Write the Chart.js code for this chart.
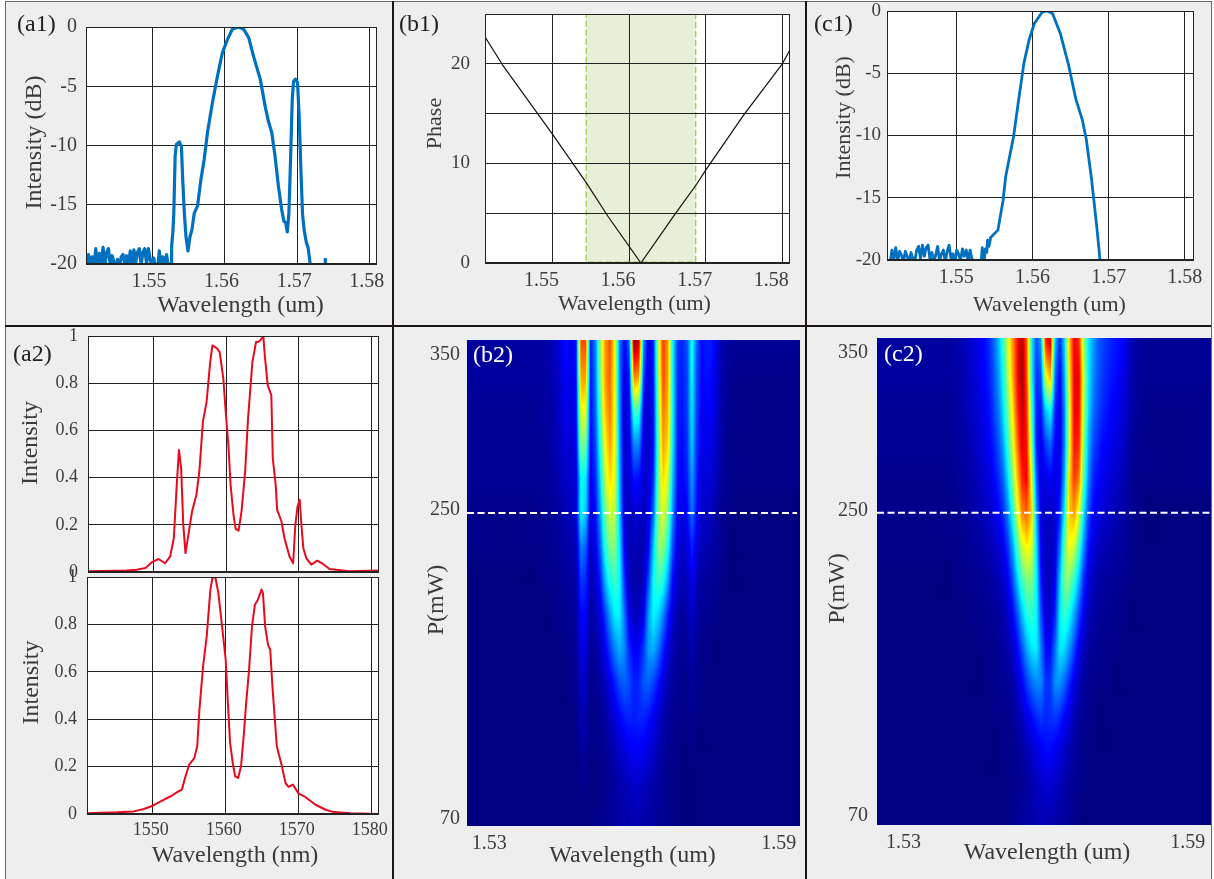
<!DOCTYPE html>
<html>
<head>
<meta charset="utf-8">
<title>Spectra</title>
<script src="https://cdn.jsdelivr.net/npm/chart.js@4"></script>
<style>
  html, body { margin: 0; background: #fff; }
  #page { position: relative; width: 1214px; height: 879px; overflow: hidden; background: #fff; }
  #sheet { position: absolute; left: 5px; top: 1px; width: 1205px; height: 878px; background: #eee; border: 1px solid #6a6a6a; border-bottom: none; }
  #page canvas { position: absolute; }
  .rule { position: absolute; background: #1a1414; }
  .tag { position: absolute; font: 24px "Liberation Serif"; color: #222; line-height: 24px; }
</style>
</head>
<body>
<div id="page"><div id="sheet"></div></div>
<script>
// (a1) spectrum, dB
const a1Wave = [1.541,1.54125,1.5415,1.54175,1.542,1.54225,1.5425,1.54275,1.543,1.54325,1.5435,1.54375,1.544,1.54425,1.5445,1.54475,1.545,1.54525,1.5455,1.54575,1.546,1.54625,1.5465,1.54675,1.547,1.54725,1.5475,1.54775,1.548,1.54825,1.5485,1.54875,1.549,1.54925,1.5495,1.54975,1.55,1.55025,1.5505,1.55075,1.551,1.55125,1.5515,1.55175,1.552,1.55225,1.5525,
  1.55264,1.5527,1.55286,1.553,1.55318,1.55336,1.55377,1.55405,1.55423,1.55445,1.55468,1.55495,1.55523,1.5555,1.55582,1.55627,1.55673,1.55718,1.55764,1.55832,1.559,1.55968,1.56036,1.56105,1.56186,1.56264,1.56332,1.564,1.56491,1.56559,1.56605,1.5665,1.56695,1.56741,1.56786,1.56818,1.56841,1.56864,1.56886,1.56909,1.56932,1.5695,1.56977,1.57005,1.57027,1.5705,1.57073,1.57095,1.57127,1.5715,1.57177,1.57195,1.5738,1.57386,1.57388];
const a1Int = [-20.3,-19.2,-20.2,-19.4,-20.1,-18.7,-20.2,-19.1,-19.9,-18.6,-20.1,-19,-18.7,-20.2,-19.3,-19.8,-20.4,-19.6,-20.3,-19.4,-19.2,-20,-19.3,-20.1,-18.9,-20,-18.8,-19.9,-19,-18.7,-20.1,-19,-18.7,-20,-18.7,-19.6,-20.2,-19.5,-20.4,-20.5,-18.9,-20.2,-19.4,-20.4,-19.2,-20.3,-20.3,
  -19.9,-18.5,-17.4,-15.7,-10.9,-9.9,-9.7,-10.1,-12.9,-15.7,-17.7,-18.9,-17.7,-17.1,-15.7,-15.1,-12.9,-11.2,-8.9,-6.4,-4.2,-2.2,-1.1,-0.2,0,-0.2,-0.9,-2.5,-4.4,-6.7,-8,-8.9,-10.9,-13.4,-15.4,-16.4,-16.5,-17.3,-15.7,-11.2,-6.1,-4.6,-4.4,-4.7,-7.5,-11.8,-15.7,-17.1,-18.2,-18.6,-19.9,-20.8,null,-20.2,-19.5];
const a1XTicks = [1.55, 1.56, 1.57, 1.58];
const a1YTicks = [-20, -15, -10, -5, 0];

// (b1) phase
const b1Wave = [1.54117,1.54348,1.55,1.55441,1.55726,1.56154,1.56609,1.56874,1.57,1.57492,1.58,1.58102];
const b1Phase = [22.73,19.9,12.93,8.07,4.67,0,5,7.83,9.33,14.83,20,21.43];
const b1Band = [1.5544, 1.5687];
const b1BandPhase = [0.1, 24.95];
const b1YTicks = [0, 5, 10, 15, 20, 25];
const b1YLabels = ['0', '', '10', '', '20', ''];

// (c1) spectrum, dB
const c1Wave = [1.5413,1.54155,1.5418,1.54205,1.5423,1.54255,1.5428,1.54305,1.5433,1.54355,1.5438,1.54405,1.5443,1.54455,1.5448,1.54505,1.5453,1.54555,1.5458,1.54605,1.5463,1.54655,1.5468,1.54705,1.5473,1.54755,1.5478,1.54805,1.5483,1.54855,1.5488,1.54905,1.5493,1.54955,1.5498,1.55005,1.5503,1.55055,1.5508,1.55105,1.5513,1.55155,1.5518,1.55205,1.5524,1.5532,
  1.5534,1.5536,1.5538,1.554,1.5541,1.5543,1.5545,1.55546,1.55614,1.55648,1.55751,1.55819,1.55887,1.55956,1.56024,1.56126,1.56195,1.56263,1.56365,1.56468,1.5657,1.56652,1.56706,1.56775,1.56843,1.56877,1.56891];
const c1Int = [-20.3,-19.2,-19.9,-19,-20.1,-19.3,-19.6,-20.2,-19.3,-19.7,-20.2,-19.4,-19.9,-20.1,-19.2,-18.9,-19.9,-18.8,-19.7,-19,-18.8,-20,-19.4,-20.1,-19.6,-18.9,-20.1,-19.5,-19.2,-20.2,-19.3,-18.8,-19.9,-19.5,-20.2,-19.2,-19.5,-20.1,-19.1,-19.7,-19.2,-20.1,-19.2,-19.9,-20.6,-20.6,
  -19,-20.4,-19.1,-19.4,-18.4,-18.9,-18.2,-17.6,-15.2,-13.3,-10.1,-7.1,-4.2,-2.3,-1,-0.1,0,-0.2,-1.8,-4.2,-7.1,-8.7,-10.3,-13.5,-17.3,-19.4,-20.5];

// (a2) measured spectra
const a2TopWave = [1541,1546.3,1547.7,1548.9,1549.8,1550.7,1551.6,1552.3,1552.8,1553.2,1553.5,1553.8,1554.1,1554.4,1554.8,1555.3,1555.9,1556.3,1556.8,1557.3,1557.8,1558.1,1558.7,1559.1,1559.6,1560,1560.3,1560.6,1561,1561.3,1561.7,1562.1,1562.6,1563,1563.6,1564.1,1564.4,1564.7,1565.1,1565.3,1565.7,1566.2,1566.4,1566.8,1567,1567.6,1568,1568.7,1569.2,1569.5,1569.8,1570.1,1570.3,1570.6,1571,1571.7,1572.5,1573.3,1574.2,1576.9,1581];
const a2TopInt = [0.003,0.006,0.01,0.017,0.042,0.055,0.037,0.066,0.144,0.369,0.517,0.44,0.2,0.08,0.158,0.256,0.327,0.425,0.637,0.721,0.89,0.96,0.949,0.932,0.82,0.651,0.538,0.369,0.242,0.183,0.175,0.256,0.425,0.651,0.89,0.975,0.975,0.982,1,0.918,0.792,0.749,0.482,0.369,0.263,0.214,0.144,0.066,0.037,0.2,0.277,0.306,0.214,0.101,0.059,0.031,0.048,0.034,0.013,0.003,0.006];
const a2BotWave = [1541.1,1545.1,1547.4,1548.8,1550,1551.1,1552.6,1553.3,1554,1554.5,1555,1555.7,1556.1,1556.4,1556.9,1557.4,1557.9,1558.2,1558.6,1559,1559.5,1560,1560.3,1560.6,1561,1561.3,1561.7,1562.1,1562.5,1562.8,1563.2,1563.6,1564,1564.4,1564.9,1565.1,1565.4,1565.8,1566.1,1566.4,1566.7,1567,1567.7,1568.2,1568.6,1569.2,1570,1570.9,1572.3,1573.7,1574.8,1577.1,1581];
const a2BotInt = [0.003,0.007,0.011,0.021,0.035,0.053,0.077,0.091,0.103,0.159,0.208,0.236,0.286,0.44,0.623,0.75,0.947,1,0.996,0.932,0.792,0.651,0.468,0.3,0.208,0.159,0.152,0.201,0.342,0.468,0.609,0.792,0.883,0.904,0.947,0.932,0.792,0.714,0.693,0.539,0.412,0.286,0.201,0.13,0.114,0.124,0.086,0.072,0.039,0.018,0.008,0.003,0];
const a2XTicks = [1550, 1560, 1570, 1580];
const a2YTicks = [0, 0.2, 0.4, 0.6, 0.8, 1];

// (b2) (c2) evolution maps: columns are mapWave, rows are mapPower, values in percent of the colour range
const mapWave = [1.54,1.541,1.542,1.543,1.544,1.545,1.546,1.547,1.548,1.549,1.55,1.551,1.552,1.553,1.554,1.555,1.556,1.557,1.558,1.559,1.56,1.561,1.562,1.563,1.564,1.565,1.566,1.567,1.568,1.569,1.57,1.571,1.572,1.573,1.574,1.575,1.576,1.577,1.578,1.579,1.58,1.581];
const mapPower = [350,330,310,290,270,250,230,210,190,170,150,130,110,90,70];
const b2Cells = [
  [3,3,4,5,7,11,14,11,14,80,80,15,25,52,72,80,62,25,12,22,98,92,25,10,15,55,82,72,38,18,16,20,40,22,13,15,15,10,5,3,3,2],
  [3,3,4,5,6,9,12,10,13,72,72,14,24,50,72,78,62,25,10,14,75,72,18,8,14,52,80,72,38,17,15,19,38,20,12,14,13,9,5,3,2,1],
  [2,3,3,4,6,8,11,9,12,62,60,13,22,46,68,76,62,26,8,11,44,42,11,7,13,48,76,70,38,16,14,18,36,19,11,12,12,8,4,2,2,1],
  [2,2,3,4,5,7,9,8,11,50,48,12,19,40,62,72,62,28,8,9,26,25,9,7,13,46,72,66,36,15,13,17,33,17,10,11,10,7,4,2,1,1],
  [2,2,2,3,4,6,7,7,9,38,36,11,16,34,56,66,60,30,8,8,14,13,8,8,16,48,66,58,32,14,12,15,28,15,8,9,8,6,3,2,1,1],
  [1,2,2,2,3,4,6,6,8,38,32,9,13,28,48,58,56,32,9,6,8,8,6,9,22,50,60,50,27,12,10,12,24,13,7,7,6,4,2,1,1,0],
  [1,1,1,2,2,3,4,4,6,25,22,7,10,22,40,50,50,36,12,5,5,5,5,12,32,50,52,40,20,10,7,9,16,9,5,5,4,3,2,1,0,0],
  [0,1,1,1,1,2,3,3,4,18,16,5,7,15,30,40,43,38,18,6,4,4,6,20,38,44,40,28,13,7,5,6,11,6,3,3,2,2,1,0,0,0],
  [0,0,0,1,1,1,2,2,3,13,12,3,5,9,18,28,36,37,24,10,6,6,11,28,37,34,26,16,8,4,3,4,7,4,2,2,1,1,0,0,0,0],
  [0,0,0,0,0,1,1,1,2,10,9,2,3,6,11,18,25,30,26,16,12,12,18,28,30,24,16,9,5,3,2,2,5,2,1,1,1,0,0,0,0,0],
  [0,0,0,0,0,0,1,1,1,7,6,1,2,3,6,10,15,20,22,20,15,16,21,22,19,14,9,5,3,2,1,1,3,1,1,0,0,0,0,0,0,0],
  [0,0,0,0,0,0,0,0,1,5,4,1,1,2,3,6,9,12,15,16,15,16,16,14,11,8,5,3,2,1,1,1,2,1,0,0,0,0,0,0,0,0],
  [0,0,0,0,0,0,0,0,0,3,2,1,1,1,2,3,5,7,9,11,12,12,11,9,7,5,3,2,1,1,0,0,1,0,0,0,0,0,0,0,0,0],
  [0,0,0,0,0,0,0,0,0,1,1,0,0,1,1,2,3,4,5,6,7,7,6,5,4,3,2,1,1,0,0,0,0,0,0,0,0,0,0,0,0,0],
  [0,0,0,0,0,0,0,0,0,0,0,0,1,1,2,2,3,4,4,5,5,5,4,4,3,2,2,1,1,0,0,0,0,0,0,0,0,0,0,0,0,0]
];
const c2Cells = [
  [3,4,5,6,7,9,11,13,16,22,30,42,58,72,86,96,78,38,20,28,84,90,30,16,34,68,88,84,54,36,28,22,19,17,15,14,13,9,6,4,3,2],
  [3,3,4,5,7,8,10,12,15,20,27,38,54,70,86,98,80,40,17,20,60,70,22,12,30,64,88,90,58,36,27,21,18,16,14,13,11,8,5,3,2,2],
  [2,3,4,5,6,7,9,11,13,18,24,34,48,64,82,94,84,46,16,14,32,38,16,10,26,60,88,88,56,34,24,19,16,14,12,11,9,7,4,3,2,1],
  [2,3,3,4,5,6,8,9,12,15,20,28,42,58,76,90,86,52,16,10,18,22,12,10,26,60,86,84,52,30,20,16,13,12,10,9,8,5,3,2,1,1],
  [1,2,3,3,4,5,6,8,9,12,16,22,34,50,68,84,88,62,22,9,10,12,9,12,30,66,82,76,46,26,16,13,11,9,8,7,6,4,2,1,1,1],
  [1,1,2,2,3,4,5,6,7,9,12,16,25,40,58,74,78,68,30,9,7,7,8,16,38,68,72,60,36,20,12,10,8,7,6,5,4,3,2,1,1,0],
  [1,1,1,2,2,3,3,4,5,6,8,11,17,28,44,58,63,60,36,11,6,6,9,24,48,62,58,44,26,14,9,7,5,5,4,3,3,2,1,1,0,0],
  [0,1,1,1,1,2,2,2,3,4,5,7,11,19,32,44,50,50,38,15,6,6,12,32,50,50,42,30,17,9,6,4,3,3,2,2,2,1,1,0,0,0],
  [0,0,0,1,1,1,1,1,2,2,3,4,7,12,20,31,40,42,38,20,8,8,16,36,43,38,29,19,11,6,4,3,2,2,1,1,1,1,0,0,0,0],
  [0,0,0,0,0,0,1,1,1,1,2,3,4,7,12,20,29,35,37,25,13,13,23,36,34,27,19,11,6,3,2,2,1,1,1,1,0,0,0,0,0,0],
  [0,0,0,0,0,0,0,0,1,1,1,2,2,4,7,12,18,23,26,26,17,18,27,27,22,16,10,6,3,2,1,1,1,1,0,0,0,0,0,0,0,0],
  [0,0,0,0,0,0,0,0,0,1,1,1,1,2,4,6,10,13,16,18,16,17,18,16,12,9,5,3,2,1,1,0,0,0,0,0,0,0,0,0,0,0],
  [0,0,0,0,0,0,0,0,0,0,0,1,1,1,2,3,5,7,9,11,13,13,11,9,7,5,3,2,1,1,0,0,0,0,0,0,0,0,0,0,0,0],
  [0,0,0,0,0,0,0,0,0,0,0,0,1,1,1,2,3,4,6,7,8,8,7,6,4,3,2,1,1,0,0,0,0,0,0,0,0,0,0,0,0,0],
  [0,0,0,0,0,0,0,0,0,0,0,0,1,1,2,3,3,4,5,5,5,5,4,3,3,2,1,1,0,0,0,0,0,0,0,0,0,0,0,0,0,0]
];
const mapXTicks = [1.53, 1.59];
const mapYLabels = ['70', '250', '350'];
const b2YLabelAt = [70, 252, 343];   // labels sit a little off in the figure
const c2YLabelAt = [71.4, 251, 344.5];
const dashPower = 250;

Chart.defaults.font.family = '"Liberation Serif"';
Chart.defaults.color = '#3c3c3c';
Chart.defaults.animation = false;

const page = document.getElementById('page');

// white plot area + frame, optional shaded band behind the grid
const plotBack = {
  id: 'plotBack',
  beforeDraw(chart, args, opts) {
    const { ctx, chartArea: a, scales } = chart;
    ctx.save();
    ctx.fillStyle = '#fff';
    ctx.fillRect(a.left, a.top, a.width, a.height);
    if (opts.band) {
      const x0 = scales.x.getPixelForValue(opts.band[0]);
      const x1 = scales.x.getPixelForValue(opts.band[1]);
      const y0 = scales.y.getPixelForValue(opts.bandY[1]);
      const y1 = scales.y.getPixelForValue(opts.bandY[0]);
      ctx.fillStyle = '#e6f0d8';
      ctx.fillRect(x0, y0, x1 - x0, y1 - y0);
      ctx.strokeStyle = '#9cc63c';
      ctx.lineWidth = 1.2;
      ctx.setLineDash([6, 3]);
      ctx.strokeRect(x0, y0, x1 - x0, y1 - y0);
    }
    ctx.restore();
  },
  afterDraw(chart) {
    const { ctx, chartArea: a } = chart;
    ctx.save();
    ctx.strokeStyle = '#222';
    ctx.lineWidth = 1;
    ctx.strokeRect(a.left + 0.5, a.top + 0.5, a.width - 1, a.height - 1);
    ctx.restore();
  }
};

// jet colour for 0..1
function jet(v) {
  const c = t => Math.max(0, Math.min(1, 1.5 - Math.abs(4 * v - t)));
  return [c(3) * 255, c(2) * 255, c(1) * 255];
}

// smooth shading of the cells (like imagesc with interp), placed through the chart scales
const mapShade = {
  id: 'mapShade',
  beforeDatasetsDraw(chart, args, opts) {
    const { ctx, chartArea: a, scales } = chart;
    const w = Math.round(a.width), h = Math.round(a.height);
    const off = document.createElement('canvas');
    off.width = w;
    off.height = h;
    const octx = off.getContext('2d');
    const img = octx.createImageData(w, h);
    const find = (list, v) => {
      let i = 0;
      while (i < list.length - 2 && v > list[i + 1]) i++;
      return [i, Math.max(0, Math.min(1, (v - list[i]) / (list[i + 1] - list[i])))];
    };
    const powers = mapPower.slice().reverse();
    const rows = opts.cells.slice().reverse();
    for (let py = 0; py < h; py++) {
      const [r, fr] = find(powers, scales.y.getValueForPixel(a.top + py + 0.5));
      for (let px = 0; px < w; px++) {
        const [q, fq] = find(mapWave, scales.x.getValueForPixel(a.left + px + 0.5));
        const low = rows[r][q] * (1 - fq) + rows[r][q + 1] * fq;
        const high = rows[r + 1][q] * (1 - fq) + rows[r + 1][q + 1] * fq;
        const col = jet((low * (1 - fr) + high * fr) / 100);
        const k = (py * w + px) * 4;
        img.data[k] = col[0];
        img.data[k + 1] = col[1];
        img.data[k + 2] = col[2];
        img.data[k + 3] = 255;
      }
    }
    octx.putImageData(img, 0, 0);
    ctx.drawImage(off, a.left, a.top, a.width, a.height);
  }
};

// axis title placed by hand: the figure has them off-centre
function moveTitle(scale, dx, dy) {
  if (scale.titleMoved) return;
  scale.titleMoved = true;
  const draw = scale.drawTitle;
  scale.drawTitle = function () {
    this.ctx.save();
    this.ctx.translate(dx, dy);
    draw.call(this);
    this.ctx.restore();
  };
}

// p: plot box in page pixels, m: room round it for labels
function addChart(p, m, datasets, xAxis, yAxis, pluginOpts, plugins) {
  const cv = document.createElement('canvas');
  const w = p.r - p.l + m.l + m.r, h = p.b - p.t + m.t + m.b;
  cv.width = w;
  cv.height = h;
  cv.style.left = (p.l - m.l) + 'px';
  cv.style.top = (p.t - m.t) + 'px';
  cv.style.width = w + 'px';
  cv.style.height = h + 'px';
  page.appendChild(cv);
  const axis = (o, pos, size) => ({
    type: 'linear',
    position: pos,
    min: o.min,
    max: o.max,
    border: { display: false },
    grid: { display: !!o.grid, color: '#222', lineWidth: 1, drawTicks: false },
    title: o.title ? { display: true, text: o.title, color: '#3a3a3a', padding: 0, font: { size: o.titleSize || 24 } } : { display: false },
    ticks: {
      autoSkip: false, maxRotation: 0, padding: o.pad, color: '#3c3c3c', labelOffset: o.offset || 0,
      font: { size: o.size || 20 },
      callback: (v, i) => o.labels ? o.labels[i] : String(v)
    },
    afterBuildTicks: s => { s.ticks = o.ticks.map(v => ({ value: v })); },
    afterFit: s => {
      if (pos === 'left') s.width = size; else s.height = size;
      // label overhang must not push the plot box around
      s.paddingTop = s.paddingBottom = s.paddingLeft = s.paddingRight = 0;
      moveTitle(s, o.dx || 0, o.dy || 0);
    }
  });
  return new Chart(cv, {
    type: 'scatter',
    data: { datasets },
    options: {
      responsive: false,
      maintainAspectRatio: false,
      layout: { padding: { left: 0, top: m.t, right: m.r, bottom: 0 } },
      scales: { x: axis(xAxis, 'bottom', m.b), y: axis(yAxis, 'left', m.l) },
      plugins: Object.assign({ legend: { display: false }, tooltip: { enabled: false } }, pluginOpts)
    },
    plugins
  });
}

const zip = (xs, ys) => xs.map((x, i) => ({ x, y: ys[i] }));
const line = (xs, ys, color, width) => ({
  data: zip(xs, ys), showLine: true, pointRadius: 0, borderColor: color, borderWidth: width,
  borderJoinStyle: 'round', tension: 0, spanGaps: false
});

const BLUE = '#0070c0', RED = '#e60a1e';

addChart({ l: 86, t: 27, r: 377, b: 264 }, { l: 80, t: 12, r: 16, b: 60 },
  [line(a1Wave, a1Int, BLUE, 3.2)],
  { min: 1.5409, max: 1.581, ticks: a1XTicks, grid: true, pad: 6, offset: -3, title: 'Wavelength (um)', dx: 9, dy: -4 },
  { min: -20, max: 0, ticks: a1YTicks, grid: true, pad: 9, title: 'Intensity (dB)', dx: 14, dy: -3 },
  {}, [plotBack]);

addChart({ l: 485, t: 14, r: 790, b: 263 }, { l: 85, t: 10, r: 16, b: 60 },
  [line(b1Wave, b1Phase, '#1a0c0c', 1.2)],
  { min: 1.5412, max: 1.581, ticks: a1XTicks, grid: true, pad: 6, offset: -11, title: 'Wavelength (um)', titleSize: 22, dx: -3, dy: -6 },
  { min: 0, max: 25, ticks: b1YTicks, labels: b1YLabels, grid: true, pad: 15, size: 19, title: 'Phase', titleSize: 22, dx: 22, dy: -15 },
  { plotBack: { band: b1Band, bandY: b1BandPhase } }, [plotBack]);

addChart({ l: 887, t: 11, r: 1194, b: 260 }, { l: 80, t: 11, r: 16, b: 60 },
  [line(c1Wave, c1Int, BLUE, 2.8)],
  { min: 1.5409, max: 1.5812, ticks: a1XTicks, grid: true, pad: 6, title: 'Wavelength (um)', titleSize: 22, dx: 9, dy: -2 },
  { min: -20, max: 0, ticks: a1YTicks, grid: true, pad: 6, size: 19, title: 'Intensity (dB)', titleSize: 22, dx: 24, dy: -18 },
  {}, [plotBack]);

addChart({ l: 88, t: 336, r: 379, b: 572 }, { l: 80, t: 10, r: 10, b: 14 },
  [line(a2TopWave, a2TopInt, RED, 2)],
  { min: 1541, max: 1581, ticks: a2XTicks, labels: ['', '', '', ''], grid: true, pad: 0 },
  { min: 0, max: 1, ticks: a2YTicks, grid: true, pad: 10, size: 18, title: 'Intensity', dx: 8, dy: -11 },
  {}, [plotBack]);

addChart({ l: 87, t: 577, r: 379, b: 814 }, { l: 80, t: 10, r: 12, b: 60 },
  [line(a2BotWave, a2BotInt, RED, 2)],
  { min: 1541, max: 1581, ticks: a2XTicks, grid: true, pad: 5, offset: -2, size: 18, title: 'Wavelength (nm)', dx: 2, dy: -4 },
  { min: 0, max: 1, ticks: a2YTicks, grid: true, pad: 10, size: 18, title: 'Intensity', dx: 10, dy: -13 },
  {}, [plotBack]);

addChart({ l: 467, t: 340, r: 800, b: 826 }, { l: 60, t: 14, r: 4, b: 50 },
  [line([1.5254, 1.5938], [dashPower, dashPower], '#fff', 2)].map(d => Object.assign(d, { borderDash: [7, 3.5] })),
  { min: 1.5254, max: 1.5944, ticks: mapXTicks, pad: 6, title: 'Wavelength (um)', dx: -1, dy: -6 },
  { min: 65.6, max: 351.9, ticks: b2YLabelAt, labels: mapYLabels, pad: 7, title: 'P(mW)', dx: 15, dy: 17 },
  { mapShade: { cells: b2Cells } }, [mapShade]);

addChart({ l: 877, t: 338, r: 1211, b: 825 }, { l: 60, t: 14, r: 3, b: 50 },
  [line([1.5244, 1.5948], [dashPower, dashPower], '#fff', 2)].map(d => Object.assign(d, { borderDash: [7, 3.5] })),
  { min: 1.5244, max: 1.5949, ticks: mapXTicks, pad: 6, title: 'Wavelength (um)', dx: 3, dy: -8 },
  { min: 66, max: 353, ticks: c2YLabelAt, labels: mapYLabels, pad: 9, title: 'P(mW)', dx: 6, dy: 7 },
  { mapShade: { cells: c2Cells } }, [mapShade]);

// dividers between the panels
[[392, 1, 2, 878], [805, 1, 2, 878], [5, 325, 1206, 2]].forEach(r => {
  const d = document.createElement('div');
  d.className = 'rule';
  d.style.cssText = `left:${r[0]}px;top:${r[1]}px;width:${r[2]}px;height:${r[3]}px`;
  page.appendChild(d);
});

// panel names
[['(a1)', 17, 11, '#222'], ['(b1)', 399, 11, '#222'], ['(c1)', 814, 11, '#222'], ['(a2)', 13, 341, '#222'], ['(b2)', 473, 342, '#fff'], ['(c2)', 884, 341, '#fff']].forEach(t => {
  const s = document.createElement('span');
  s.className = 'tag';
  s.textContent = t[0];
  s.style.left = t[1] + 'px';
  s.style.top = t[2] + 'px';
  s.style.color = t[3];
  page.appendChild(s);
});
</script>
</body>
</html>
